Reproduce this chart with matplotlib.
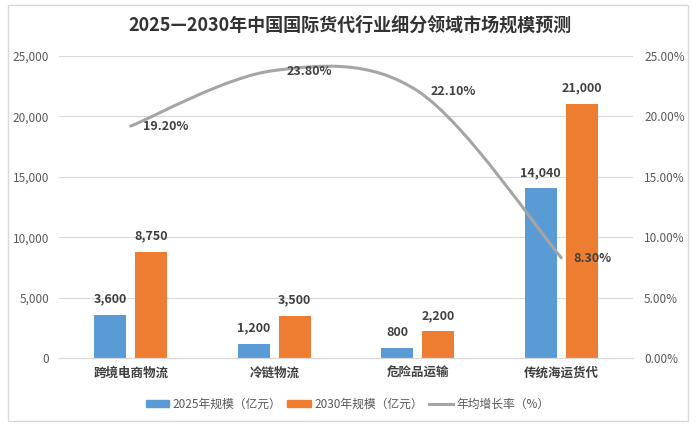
"""Gráfico: 2025—2030年中国国际货代行业细分领域市场规模预测."""

import matplotlib
import matplotlib.pyplot as plt
import numpy as np
from matplotlib.patches import PathPatch, Rectangle
from matplotlib.path import Path
from matplotlib.lines import Line2D
from matplotlib.ticker import FuncFormatter, MultipleLocator

matplotlib.use("Agg")

plt.rcParams["font.family"] = ["Noto Sans CJK SC", "DejaVu Sans"]

# datos
categorias = ["跨境电商物流", "冷链物流", "危险品运输", "传统海运货代"]
escala_2025 = [3600, 1200, 800, 14040]
escala_2030 = [8750, 3500, 2200, 21000]
crecimiento = [0.192, 0.238, 0.221, 0.083]

titulo = "2025—2030年中国国际货代行业细分领域市场规模预测"
nombres_series = ["2025年规模（亿元）", "2030年规模（亿元）", "年均增长率（%）"]

AZUL = "#5B9BD5"
NARANJA = "#ED7D31"
GRIS = "#A5A5A5"
TEXTO = "#404040"
EJES = "#595959"
REJILLA = "#D9D9D9"


def curva_suave(xs, ys):
    """Path de Bézier tipo línea suavizada de Excel a través de los puntos."""
    pts = np.column_stack([xs, ys])
    n = len(pts)
    verts = [pts[0]]
    codes = [Path.MOVETO]
    for i in range(n - 1):
        p0 = pts[i - 1] if i > 0 else pts[i]
        p1 = pts[i]
        p2 = pts[i + 1]
        p3 = pts[i + 2] if i + 2 < n else pts[i + 1]
        c1 = p1 + (p2 - p0) / 6
        c2 = p2 - (p3 - p1) / 6
        verts += [c1, c2, p2]
        codes += [Path.CURVE4] * 3
    return Path(verts, codes)


fig = plt.figure(figsize=(6.99, 4.33), dpi=100)
ax = fig.add_axes([0.0844, 0.1732, 0.8212, 0.6975])
ax2 = ax.twinx()

x = np.arange(len(categorias))
ancho = 0.223
desp = 0.143

b1 = ax.bar(x - desp, escala_2025, ancho, color=AZUL, zorder=2)
b2 = ax.bar(x + desp, escala_2030, ancho, color=NARANJA, zorder=2)

for barras in (b1, b2):
    for barra in barras:
        valor = barra.get_height()
        ax.annotate(f"{valor:,.0f}",
                    (barra.get_x() + barra.get_width() / 2, valor),
                    xytext=(0, 11.5), textcoords="offset points",
                    ha="center", va="center", fontsize=9,
                    fontweight="bold", color=TEXTO)

ax.set_xlim(-0.5, len(categorias) - 0.5)
ax.set_ylim(0, 25000)
ax.yaxis.set_major_locator(MultipleLocator(5000))
ax.yaxis.set_major_formatter(FuncFormatter(lambda v, p: f"{v:,.0f}"))
ax.set_xticks(x)
ax.set_xticklabels(categorias, fontsize=9, fontweight="bold", color=TEXTO)
ax.tick_params(axis="x", length=0, pad=6)
ax.tick_params(axis="y", length=0, labelsize=8.5, labelcolor=EJES, pad=7)
ax.grid(axis="y", color=REJILLA, linewidth=0.8, zorder=0)
ax.set_axisbelow(True)

# linea suavizada de crecimiento
ax2.set_ylim(0, 0.25)
ax2.yaxis.set_major_locator(MultipleLocator(0.05))
ax2.yaxis.set_major_formatter(FuncFormatter(lambda v, p: f"{v:.2%}"))
ax2.tick_params(axis="y", length=0, labelsize=8.5, labelcolor=EJES, pad=8)
ax2.add_patch(PathPatch(curva_suave(x, crecimiento), facecolor="none",
                        edgecolor=GRIS, linewidth=2.2, capstyle="round",
                        zorder=3))
for xi, yi in zip(x, crecimiento):
    ax2.annotate(f"{yi:.2%}", (xi, yi), xytext=(9, -0.5),
                 textcoords="offset points", ha="left", va="center",
                 fontsize=9, fontweight="bold", color=TEXTO)

for a in (ax, ax2):
    for lado in ("top", "left", "right"):
        a.spines[lado].set_visible(False)
    a.spines["bottom"].set_color(REJILLA)

fig.text(0.5, 0.942, titulo, ha="center", va="center", fontsize=13,
         fontweight="bold", color="#333333")

manejadores = [
    Rectangle((0, 0), 1, 1, color=AZUL),
    Rectangle((0, 0), 1, 1, color=NARANJA),
    Line2D([0], [0], color=GRIS, linewidth=2.2),
]
ley = fig.legend(manejadores, nombres_series, loc="center",
                 bbox_to_anchor=(0.497, 0.067), ncol=3, frameon=False,
                 fontsize=8.5, handlelength=2.0, handleheight=0.6,
                 handletextpad=0.3, columnspacing=0.5)
for t in ley.get_texts():
    t.set_color(EJES)

fig.patches.append(Rectangle((0.0114, 0.0277), 0.9728, 0.9607,
                             transform=fig.transFigure, fill=False,
                             edgecolor=REJILLA, linewidth=1))

fig.savefig("out.png", dpi=100)
plt.close(fig)
